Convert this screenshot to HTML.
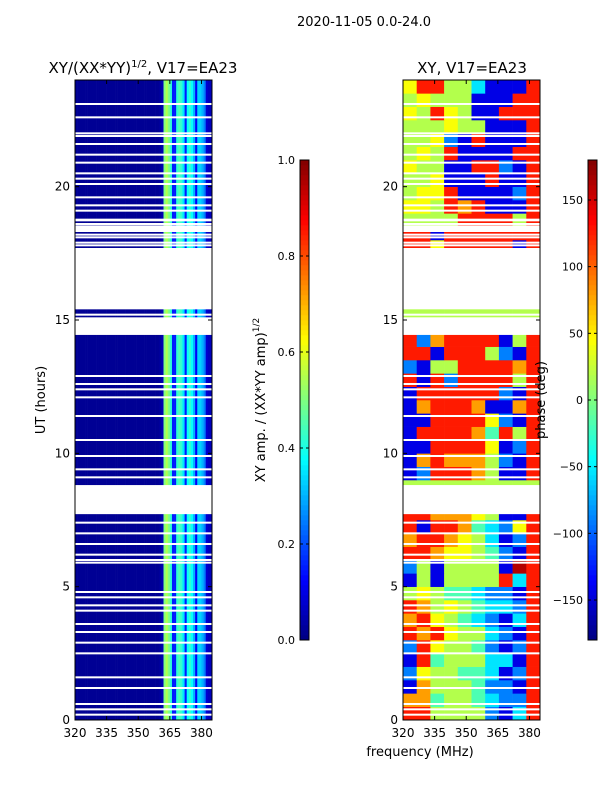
<!DOCTYPE html>
<html><head><meta charset="utf-8"><style>
body{margin:0;background:#fff;width:600px;height:800px;overflow:hidden}
svg text{font-family:"DejaVu Sans","Liberation Sans",sans-serif;fill:#000}
</style></head><body>
<svg id="s" width="600" height="800" xmlns="http://www.w3.org/2000/svg"></svg>
<script>
// ---- data ----
const ampFreqStart = 320; // MHz, 1 MHz per column
const ampProfile = [0.02,0.02,0.02,0.02,0.02,0.02,0.02,0.02,0.02,0.02,0.02,0.02,0.02,0.02,0.02,0.02,0.02,0.02,0.02,0.02,0.02,0.02,0.02,0.02,0.02,0.02,0.02,0.02,0.02,0.02,0.02,0.02,0.02,0.02,0.02,0.02,0.02,0.02,0.02,0.02,0.03,0.05,
 0.5,0.55,0.5,0.42,0.15,0.15,0.42,0.45,0.42,0.35,0.15,0.38,0.42,0.38,0.3,0.12,0.33,0.33,0.3,0.25,0.08,0.06,0.06];
// phase codes 0..9 => -180..180 deg, 10 freq columns (6.5 MHz), rows per 0.5 h from 0 h
const phaseRows = ["8855552138","7745543228","1755542218","2655443128","1845553318","2865542128","8786553218","7865432138","8756543328","5654432218",
"1515555838","2515555198","8876654218","7887653128","8188743268","8877765118","5555555555","5555555555","1288875118","1787775218",
"1188886128","1888874858","1188886218","1788871178","1888888218","8182888858","2155888878","8818885218","8278888158","5555555555",
"5555555555","5555555555","5555555555","5555555555","5555555555","8868888818","8818888888","5555888858","6658781118","5668111128",
"5561118118","6551188218","5658111188","5562181118","5556551118","6586511888","5655511188","6885531118"];
const phaseLevels = [0.02,0.1,0.25,0.35,0.45,0.55,0.62,0.72,0.85,0.95];
const flagBands = [[7.72,8.81],[14.44,15.1],[15.4,17.7],[18.3,18.55],[18.7,18.8]];
const flagLines = [23.1,22.6,22.0,21.9,21.6,21.2,20.9,20.5,20.3,20.1,19.6,19.3,19.1,18.6,18.2,18.1,17.9,17.8,
 15.2,12.9,12.6,12.4,12.1,11.4,10.5,9.9,9.4,9.1,7.4,7.0,6.6,6.2,6.0,5.9,4.8,4.6,4.3,4.1,3.6,3.3,2.9,2.5,1.6,1.2,0.6,0.4,0.2];
const xTicks = [320,335,350,365,380];
const yTicks = [0,5,10,15,20];
const ampTicks = [0.0,0.2,0.4,0.6,0.8,1.0];
const phTicks = [-150,-100,-50,0,50,100,150];

// ---- helpers ----
const S=document.getElementById('s'),NS='http://www.w3.org/2000/svg';
function mk(t,a,p){const e=document.createElementNS(NS,t);for(const k in a)e.setAttribute(k,a[k]);(p||S).appendChild(e);return e;}
function jet(v){v=Math.max(0,Math.min(1,v));const c=x=>Math.round(255*Math.max(0,Math.min(1,1.5-Math.abs(4*v-x))));return `rgb(${c(3)},${c(2)},${c(1)})`;}
const Y0=720,Y1=80,yS=h=>Y0-(Y0-Y1)*h/24;
function xS(x0){return f=>x0+(f-320)*(137/65);}
const panels=[{x0:75,name:'amp-heatmap'},{x0:403,name:'phase-heatmap'}];
panels.forEach((P,pi)=>{
  const xs=xS(P.x0);
  const g=mk('g',{});
  
  
  if(pi===0){
    ampProfile.forEach((v,i)=>{mk('rect',{x:xs(ampFreqStart+i),y:Y1,width:xs(ampFreqStart+i+1)-xs(ampFreqStart+i)+0.3,height:Y0-Y1,fill:jet(v)},g);});
  } else {
    phaseRows.forEach((r,ri)=>{for(let c=0;c<r.length;c++){const v=phaseLevels[+r[c]];
      mk('rect',{x:xs(320+c*6.5),y:yS((ri+1)*0.5),width:xs(326.5)-xs(320)+0.3,height:yS(0)-yS(0.5)+0.3,fill:jet(v)},g);}});
  }
  flagBands.forEach(b=>mk('rect',{x:P.x0,y:yS(b[1]),width:137,height:yS(b[0])-yS(b[1]),fill:'#fff'},g));
  flagLines.forEach(h=>mk('rect',{x:P.x0,y:yS(h)-1,width:137,height:2,fill:'#fff'},g));
  mk('rect',{x:P.x0,y:Y1,width:137,height:Y0-Y1,fill:'none',stroke:'#000','stroke-width':1});
  xTicks.forEach(t=>{const x=xs(t);mk('line',{x1:x,x2:x,y1:Y0,y2:Y0-4,stroke:'#000'});mk('line',{x1:x,x2:x,y1:Y1,y2:Y1+4,stroke:'#000'});
    const tx=mk('text',{x:x,y:737,'font-size':12,'text-anchor':'middle'});tx.textContent=t;});
  yTicks.forEach(t=>{const y=yS(t);mk('line',{x1:P.x0,x2:P.x0+4,y1:y,y2:y,stroke:'#000'});mk('line',{x1:P.x0+133,x2:P.x0+137,y1:y,y2:y,stroke:'#000'});
    const tx=mk('text',{x:P.x0-5,y:y+4,'font-size':12,'text-anchor':'end'});tx.textContent=t;});
});
// colorbars
[{x:300,ticks:ampTicks,min:0,max:1,fmt:v=>v.toFixed(1),name:'amp-colorbar'},{x:588,ticks:phTicks,min:-180,max:180,fmt:v=>String(v).replace('-','\u2212'),name:'phase-colorbar'}].forEach(C=>{
  const g=mk('g',{});
  
  
  for(let i=0;i<96;i++)mk('rect',{x:C.x,y:640-(i+1)*5,width:9,height:5.3,fill:jet((i+0.5)/96)},g);
  mk('rect',{x:C.x,y:160,width:9,height:480,fill:'none',stroke:'#000'},g);
  C.ticks.forEach(t=>{const y=640-480*(t-C.min)/(C.max-C.min);
    mk('line',{x1:C.x,x2:C.x+3,y1:y,y2:y,stroke:'#000'},g);mk('line',{x1:C.x+6,x2:C.x+9,y1:y,y2:y,stroke:'#000'},g);
    const tx=mk('text',{x:C.x-5,y:y+4,'font-size':11,'text-anchor':'end'},g);tx.textContent=C.fmt(t);});
});
</script>
<svg width="600" height="800" style="position:absolute;left:0;top:0">
<text x="364" y="26" font-size="13" text-anchor="middle">2020-11-05 0.0-24.0</text>
<text x="143" y="73" font-size="15" text-anchor="middle">XY/(XX*YY)<tspan font-size="10" dy="-6">1/2</tspan><tspan dy="6">, V17=EA23</tspan></text>
<text x="472" y="73" font-size="15" text-anchor="middle">XY, V17=EA23</text>
<text transform="translate(45,400) rotate(-90)" font-size="13" text-anchor="middle">UT (hours)</text>
<text x="420" y="756" font-size="13" text-anchor="middle">frequency (MHz)</text>
<text transform="translate(265,400) rotate(-90)" font-size="13" text-anchor="middle">XY amp. / (XX*YY amp)<tspan font-size="9" dy="-6">1/2</tspan></text>
<text transform="translate(545,400) rotate(-90)" font-size="13" text-anchor="middle">phase (deg)</text>
</svg>
</body></html>
